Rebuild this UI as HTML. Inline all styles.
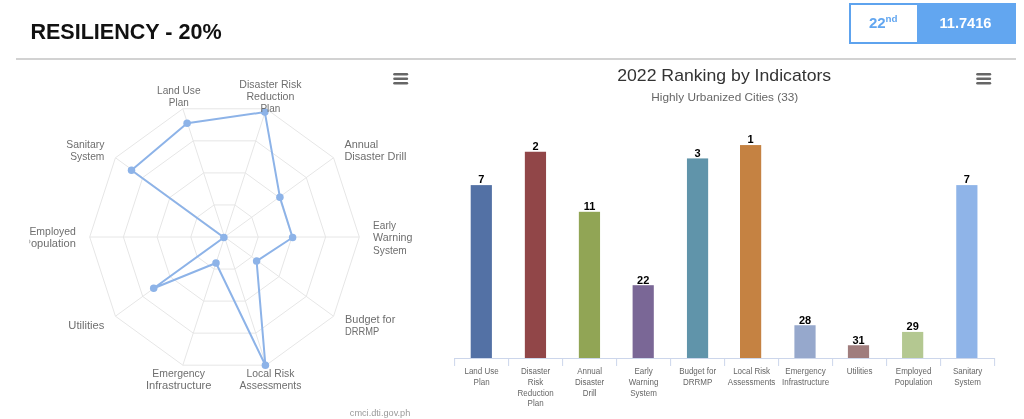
<!DOCTYPE html>
<html><head><meta charset="utf-8">
<style>
html,body{margin:0;padding:0;background:#fff;}
body{width:1024px;height:419px;overflow:hidden;position:relative;font-family:"Liberation Sans",sans-serif;}
svg{position:absolute;left:0;top:0;will-change:transform;}
</style></head><body>
<svg width="1024" height="419" viewBox="0 0 1024 419" font-family="Liberation Sans, sans-serif">

<text x="30.4" y="38.6" font-size="22.6" font-weight="bold" fill="#111" textLength="191.2" lengthAdjust="spacingAndGlyphs">RESILIENCY - 20%</text>
<rect x="16" y="58" width="1000" height="2" fill="#d2d2d2"/>
<rect x="850" y="4" width="165" height="39" fill="#fff" stroke="#5ea3ee" stroke-width="2"/>
<rect x="917" y="3" width="99" height="41" fill="#62a6f0"/>
<text x="869.0" y="27.8" font-size="15" font-weight="bold" fill="#62a6f0">22<tspan font-size="9.8" dy="-5.9" dx="-0.2">nd</tspan></text>
<text x="965.5" y="27.8" font-size="14.6" font-weight="bold" fill="#fff" text-anchor="middle">11.7416</text>
<polygon points="214.09,204.95 234.91,204.95 251.76,217.19 258.20,237.00 251.76,256.81 234.91,269.05 214.09,269.05 197.24,256.81 190.80,237.00 197.24,217.19" fill="none" stroke="#e6e6e6" stroke-width="1"/><polygon points="203.67,172.90 245.33,172.90 279.03,197.38 291.90,237.00 279.03,276.62 245.33,301.10 203.67,301.10 169.97,276.62 157.10,237.00 169.97,197.38" fill="none" stroke="#e6e6e6" stroke-width="1"/><polygon points="193.26,140.85 255.74,140.85 306.29,177.57 325.60,237.00 306.29,296.43 255.74,333.15 193.26,333.15 142.71,296.43 123.40,237.00 142.71,177.57" fill="none" stroke="#e6e6e6" stroke-width="1"/><polygon points="182.84,108.80 266.16,108.80 333.56,157.77 359.30,237.00 333.56,316.23 266.16,365.20 182.84,365.20 115.44,316.23 89.70,237.00 115.44,157.77" fill="none" stroke="#e6e6e6" stroke-width="1"/><line x1="224.50" y1="237.00" x2="182.84" y2="108.80" stroke="#e6e6e6" stroke-width="1"/><line x1="224.50" y1="237.00" x2="266.16" y2="108.80" stroke="#e6e6e6" stroke-width="1"/><line x1="224.50" y1="237.00" x2="333.56" y2="157.77" stroke="#e6e6e6" stroke-width="1"/><line x1="224.50" y1="237.00" x2="359.30" y2="237.00" stroke="#e6e6e6" stroke-width="1"/><line x1="224.50" y1="237.00" x2="333.56" y2="316.23" stroke="#e6e6e6" stroke-width="1"/><line x1="224.50" y1="237.00" x2="266.16" y2="365.20" stroke="#e6e6e6" stroke-width="1"/><line x1="224.50" y1="237.00" x2="182.84" y2="365.20" stroke="#e6e6e6" stroke-width="1"/><line x1="224.50" y1="237.00" x2="115.44" y2="316.23" stroke="#e6e6e6" stroke-width="1"/><line x1="224.50" y1="237.00" x2="89.70" y2="237.00" stroke="#e6e6e6" stroke-width="1"/><line x1="224.50" y1="237.00" x2="115.44" y2="157.77" stroke="#e6e6e6" stroke-width="1"/>
<polygon points="187.1,123.2 264.8,112.1 279.9,197.2 292.6,237.5 256.6,261.1 265.4,365.3 216.0,263.0 153.7,288.2 223.9,237.5 131.5,170.2" fill="none" stroke="#8db3e8" stroke-width="2" stroke-linejoin="round"/>
<circle cx="187.1" cy="123.2" r="3.75" fill="#8db3e8"/>
<circle cx="264.8" cy="112.1" r="3.75" fill="#8db3e8"/>
<circle cx="279.9" cy="197.2" r="3.75" fill="#8db3e8"/>
<circle cx="292.6" cy="237.5" r="3.75" fill="#8db3e8"/>
<circle cx="256.6" cy="261.1" r="3.75" fill="#8db3e8"/>
<circle cx="265.4" cy="365.3" r="3.75" fill="#8db3e8"/>
<circle cx="216.0" cy="263.0" r="3.75" fill="#8db3e8"/>
<circle cx="153.7" cy="288.2" r="3.75" fill="#8db3e8"/>
<circle cx="223.9" cy="237.5" r="3.75" fill="#8db3e8"/>
<circle cx="131.5" cy="170.2" r="3.75" fill="#8db3e8"/>
<defs><clipPath id="lc"><rect x="29.5" y="60" width="420" height="359"/></clipPath></defs>
<g fill="#6e6e6e" clip-path="url(#lc)">
<text x="178.80" y="93.70" text-anchor="middle" font-size="10.2" textLength="43.5" lengthAdjust="spacingAndGlyphs">Land Use</text>
<text x="178.80" y="106.00" text-anchor="middle" font-size="10.2" textLength="19.9" lengthAdjust="spacingAndGlyphs">Plan</text>
<text x="270.40" y="87.50" text-anchor="middle" font-size="10.2" textLength="62.1" lengthAdjust="spacingAndGlyphs">Disaster Risk</text>
<text x="270.40" y="99.80" text-anchor="middle" font-size="10.2" textLength="47.9" lengthAdjust="spacingAndGlyphs">Reduction</text>
<text x="270.40" y="112.20" text-anchor="middle" font-size="10.2" textLength="20.0" lengthAdjust="spacingAndGlyphs">Plan</text>
<text x="344.40" y="147.70" text-anchor="start" font-size="10.2" textLength="33.9" lengthAdjust="spacingAndGlyphs">Annual</text>
<text x="344.40" y="160.40" text-anchor="start" font-size="10.2" textLength="62.0" lengthAdjust="spacingAndGlyphs">Disaster Drill</text>
<text x="373.10" y="228.70" text-anchor="start" font-size="10.2" textLength="22.9" lengthAdjust="spacingAndGlyphs">Early</text>
<text x="373.10" y="241.30" text-anchor="start" font-size="10.2" textLength="39.3" lengthAdjust="spacingAndGlyphs">Warning</text>
<text x="373.10" y="253.80" text-anchor="start" font-size="10.2" textLength="33.7" lengthAdjust="spacingAndGlyphs">System</text>
<text x="345.10" y="322.50" text-anchor="start" font-size="10.2" textLength="50.2" lengthAdjust="spacingAndGlyphs">Budget for</text>
<text x="345.10" y="334.80" text-anchor="start" font-size="10.2" textLength="34.1" lengthAdjust="spacingAndGlyphs">DRRMP</text>
<text x="270.50" y="376.60" text-anchor="middle" font-size="10.2" textLength="47.9" lengthAdjust="spacingAndGlyphs">Local Risk</text>
<text x="270.50" y="389.00" text-anchor="middle" font-size="10.2" textLength="61.8" lengthAdjust="spacingAndGlyphs">Assessments</text>
<text x="178.70" y="376.60" text-anchor="middle" font-size="10.2" textLength="52.7" lengthAdjust="spacingAndGlyphs">Emergency</text>
<text x="178.70" y="389.00" text-anchor="middle" font-size="10.2" textLength="65.6" lengthAdjust="spacingAndGlyphs">Infrastructure</text>
<text x="104.40" y="328.75" text-anchor="end" font-size="10.2" textLength="36.1" lengthAdjust="spacingAndGlyphs">Utilities</text>
<text x="75.90" y="235.10" text-anchor="end" font-size="10.2" textLength="46.5" lengthAdjust="spacingAndGlyphs">Employed</text>
<text x="75.90" y="247.30" text-anchor="end" font-size="10.2" textLength="52.4" lengthAdjust="spacingAndGlyphs">Population</text>
<text x="104.40" y="147.90" text-anchor="end" font-size="10.2" textLength="38.2" lengthAdjust="spacingAndGlyphs">Sanitary</text>
<text x="104.40" y="160.30" text-anchor="end" font-size="10.2" textLength="34.1" lengthAdjust="spacingAndGlyphs">System</text>
</g>
<text x="410.3" y="415.7" font-size="9" fill="#9a9a9a" text-anchor="end" textLength="60.5" lengthAdjust="spacingAndGlyphs">cmci.dti.gov.ph</text>
<line x1="394.5" y1="74.2" x2="406.9" y2="74.2" stroke="#666" stroke-width="2.6" stroke-linecap="round"/><line x1="394.5" y1="78.7" x2="406.9" y2="78.7" stroke="#666" stroke-width="2.6" stroke-linecap="round"/><line x1="394.5" y1="83.2" x2="406.9" y2="83.2" stroke="#666" stroke-width="2.6" stroke-linecap="round"/>
<line x1="977.5" y1="74.2" x2="989.9" y2="74.2" stroke="#666" stroke-width="2.6" stroke-linecap="round"/><line x1="977.5" y1="78.7" x2="989.9" y2="78.7" stroke="#666" stroke-width="2.6" stroke-linecap="round"/><line x1="977.5" y1="83.2" x2="989.9" y2="83.2" stroke="#666" stroke-width="2.6" stroke-linecap="round"/>
<text x="724.2" y="80.75" font-size="17" fill="#333" text-anchor="middle" textLength="214" lengthAdjust="spacingAndGlyphs">2022 Ranking by Indicators</text>
<text x="724.8" y="100.8" font-size="11" fill="#666" text-anchor="middle" textLength="147" lengthAdjust="spacingAndGlyphs">Highly Urbanized Cities (33)</text>
<rect x="470.70" y="185.11" width="21.2" height="172.89" fill="#5371a5"/>
<text x="481.30" y="183.41" font-size="11" font-weight="bold" fill="#000" text-anchor="middle">7</text>
<text font-size="8.4" fill="#666" text-anchor="middle" x="481.60" y="374.00" textLength="34.25" lengthAdjust="spacingAndGlyphs">Land Use</text>
<text font-size="8.4" fill="#666" text-anchor="middle" x="481.60" y="384.80" textLength="16.01" lengthAdjust="spacingAndGlyphs">Plan</text>
<rect x="524.85" y="151.75" width="21.2" height="206.25" fill="#914648"/>
<text x="535.45" y="150.05" font-size="11" font-weight="bold" fill="#000" text-anchor="middle">2</text>
<text font-size="8.4" fill="#666" text-anchor="middle" x="535.60" y="374.00" textLength="29.34" lengthAdjust="spacingAndGlyphs">Disaster</text>
<text font-size="8.4" fill="#666" text-anchor="middle" x="535.60" y="384.80" textLength="15.55" lengthAdjust="spacingAndGlyphs">Risk</text>
<text font-size="8.4" fill="#666" text-anchor="middle" x="535.60" y="395.60" textLength="36.02" lengthAdjust="spacingAndGlyphs">Reduction</text>
<text font-size="8.4" fill="#666" text-anchor="middle" x="535.60" y="406.40" textLength="16.01" lengthAdjust="spacingAndGlyphs">Plan</text>
<rect x="578.85" y="211.80" width="21.2" height="146.20" fill="#91a555"/>
<text x="589.45" y="210.10" font-size="11" font-weight="bold" fill="#000" text-anchor="middle">11</text>
<text font-size="8.4" fill="#666" text-anchor="middle" x="589.60" y="374.00" textLength="24.91" lengthAdjust="spacingAndGlyphs">Annual</text>
<text font-size="8.4" fill="#666" text-anchor="middle" x="589.60" y="384.80" textLength="29.34" lengthAdjust="spacingAndGlyphs">Disaster</text>
<text font-size="8.4" fill="#666" text-anchor="middle" x="589.60" y="395.60" textLength="13.77" lengthAdjust="spacingAndGlyphs">Drill</text>
<rect x="632.60" y="285.21" width="21.2" height="72.79" fill="#7a6796"/>
<text x="643.20" y="283.51" font-size="11" font-weight="bold" fill="#000" text-anchor="middle">22</text>
<text font-size="8.4" fill="#666" text-anchor="middle" x="643.60" y="374.00" textLength="18.23" lengthAdjust="spacingAndGlyphs">Early</text>
<text font-size="8.4" fill="#666" text-anchor="middle" x="643.60" y="384.80" textLength="29.49" lengthAdjust="spacingAndGlyphs">Warning</text>
<text font-size="8.4" fill="#666" text-anchor="middle" x="643.60" y="395.60" textLength="26.67" lengthAdjust="spacingAndGlyphs">System</text>
<rect x="686.95" y="158.42" width="21.2" height="199.58" fill="#6094aa"/>
<text x="697.55" y="156.72" font-size="11" font-weight="bold" fill="#000" text-anchor="middle">3</text>
<text font-size="8.4" fill="#666" text-anchor="middle" x="697.60" y="374.00" textLength="36.91" lengthAdjust="spacingAndGlyphs">Budget for</text>
<text font-size="8.4" fill="#666" text-anchor="middle" x="697.60" y="384.80" textLength="29.33" lengthAdjust="spacingAndGlyphs">DRRMP</text>
<rect x="740.00" y="145.07" width="21.2" height="212.93" fill="#c58242"/>
<text x="750.60" y="143.37" font-size="11" font-weight="bold" fill="#000" text-anchor="middle">1</text>
<text font-size="8.4" fill="#666" text-anchor="middle" x="751.60" y="374.00" textLength="36.90" lengthAdjust="spacingAndGlyphs">Local Risk</text>
<text font-size="8.4" fill="#666" text-anchor="middle" x="751.60" y="384.80" textLength="47.57" lengthAdjust="spacingAndGlyphs">Assessments</text>
<rect x="794.40" y="325.24" width="21.2" height="32.76" fill="#96a8cc"/>
<text x="805.00" y="323.54" font-size="11" font-weight="bold" fill="#000" text-anchor="middle">28</text>
<text font-size="8.4" fill="#666" text-anchor="middle" x="805.60" y="374.00" textLength="40.46" lengthAdjust="spacingAndGlyphs">Emergency</text>
<text font-size="8.4" fill="#666" text-anchor="middle" x="805.60" y="384.80" textLength="47.13" lengthAdjust="spacingAndGlyphs">Infrastructure</text>
<rect x="847.90" y="345.26" width="21.2" height="12.74" fill="#a07d7d"/>
<text x="858.50" y="343.56" font-size="11" font-weight="bold" fill="#000" text-anchor="middle">31</text>
<text font-size="8.4" fill="#666" text-anchor="middle" x="859.60" y="374.00" textLength="25.78" lengthAdjust="spacingAndGlyphs">Utilities</text>
<rect x="902.05" y="331.92" width="21.2" height="26.08" fill="#b4c891"/>
<text x="912.65" y="330.22" font-size="11" font-weight="bold" fill="#000" text-anchor="middle">29</text>
<text font-size="8.4" fill="#666" text-anchor="middle" x="913.60" y="374.00" textLength="35.57" lengthAdjust="spacingAndGlyphs">Employed</text>
<text font-size="8.4" fill="#666" text-anchor="middle" x="913.60" y="384.80" textLength="37.81" lengthAdjust="spacingAndGlyphs">Population</text>
<rect x="956.25" y="185.11" width="21.2" height="172.89" fill="#8fb4e8"/>
<text x="966.85" y="183.41" font-size="11" font-weight="bold" fill="#000" text-anchor="middle">7</text>
<text font-size="8.4" fill="#666" text-anchor="middle" x="967.60" y="374.00" textLength="29.35" lengthAdjust="spacingAndGlyphs">Sanitary</text>
<text font-size="8.4" fill="#666" text-anchor="middle" x="967.60" y="384.80" textLength="26.67" lengthAdjust="spacingAndGlyphs">System</text>
<rect x="454" y="358" width="541" height="1" fill="#ccd6eb"/>
<rect x="454.10" y="358" width="1" height="8" fill="#ccd6eb"/>
<rect x="508.10" y="358" width="1" height="8" fill="#ccd6eb"/>
<rect x="562.10" y="358" width="1" height="8" fill="#ccd6eb"/>
<rect x="616.10" y="358" width="1" height="8" fill="#ccd6eb"/>
<rect x="670.10" y="358" width="1" height="8" fill="#ccd6eb"/>
<rect x="724.10" y="358" width="1" height="8" fill="#ccd6eb"/>
<rect x="778.10" y="358" width="1" height="8" fill="#ccd6eb"/>
<rect x="832.10" y="358" width="1" height="8" fill="#ccd6eb"/>
<rect x="886.10" y="358" width="1" height="8" fill="#ccd6eb"/>
<rect x="940.10" y="358" width="1" height="8" fill="#ccd6eb"/>
<rect x="994.10" y="358" width="1" height="8" fill="#ccd6eb"/>
</svg></body></html>
